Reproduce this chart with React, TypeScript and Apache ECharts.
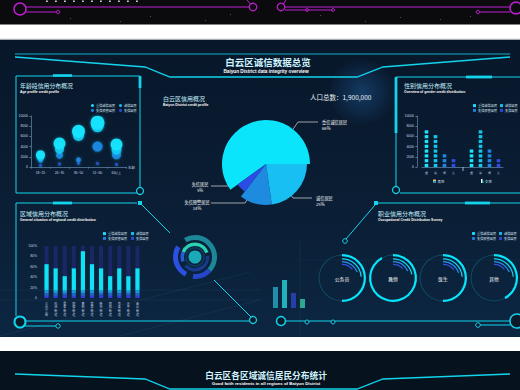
import React, { useEffect, useRef } from "react";
import * as echarts from "echarts";

// ---------- data ----------
const creditTypes = ["重信诚信居民", "诚信居民", "失信预警居民", "失信居民"];

const ageGroups = ["18~25", "26~35", "36~50", "51~60", "60以上"];
const ageHigh = [2400, 4600, 7000, 8700, 4400];
const ageGood = [2000, 3500, 6200, 8000, 3400];
const ageWarn = [1300, 2300, 1400, 4000, 2400];
const ageBad = [300, 600, 700, 700, 500];

const pieNames = ["重信诚信居民", "失信居民", "失信预警居民", "诚信居民"];
const pieValues = [66, 5, 14, 25];
const population = "1,900,000";

const genderSlots = ["重", "诚", "预", "失", "", "重", "诚", "预", "失"];
const genderHigh = [6600, "-", "-", "-", "-", 3300, "-", "-", "-"];
const genderGood = ["-", 5500, "-", "-", "-", "-", 6600, "-", "-"];
const genderWarn = ["-", "-", 2200, "-", "-", "-", "-", 3300, "-"];
const genderBad = ["-", "-", "-", 1100, "-", "-", "-", "-", 1100];
const genderGroups = ["男性", "女性"];

const regions = ["三元里街", "松洲街道", "景泰街道", "同德街道", "黄石街道", "棠景街道", "新市街道", "同和街道", "京溪街道", "永平街道", "金沙街道"];
const regionBad = [4, 4, 5, 4, 4, 4, 5, 4, 4, 5, 4];
const regionWarn = [5, 5, 4, 5, 5, 5, 4, 5, 5, 4, 5];
const regionGood = [6, 5, 5, 6, 5, 6, 5, 5, 6, 5, 6];
const regionHigh = [50, 43, 28, 42, 76, 50, 43, 28, 42, 28, 42];
const regionFull = [100, 100, 100, 100, 100, 100, 100, 100, 100, 100, 100];

const jobs = ["公务员", "教师", "医生", "其他"];
const jobRate = [50, 92, 50, 42];
const jobArcA = [24, 22, 24, 24];
const jobArcB = [19, 18, 20, 19];
const jobArcC = [14, 13, 15, 14];

const decoBars = [21, 28, 15, 9];

// ---------- styles ----------
const CJK = "'Noto Sans CJK SC', 'Noto Sans', sans-serif";
const LAT = "'Liberation Sans', Arial, sans-serif";
const CY = "#13d4ec";
const MG = "#c11ed4";
const creditColors = ["#19e6ff", "#13c8ef", "#1e86e4", "#2c4ce2"];
const pieColors = ["#0ae5fb", "#2c4ce6", "#1e8ae0", "#17bff2"];
const pieRadius = [44, 35, 41, 41];

const line = (x1: number, y1: number, x2: number, y2: number, w = 1, stroke = CY, opacity = 1) => ({
  type: "line", silent: true, z: 5,
  shape: { x1, y1, x2, y2 },
  style: { stroke, lineWidth: w, opacity },
});
const circ = (cx: number, cy: number, r: number, stroke = CY, w = 1, fill: any = "#0a1b2e") => ({
  type: "circle", silent: true, z: 5,
  shape: { cx, cy, r },
  style: { stroke, lineWidth: w, fill },
});
const poly = (points: number[][], w = 1, stroke = CY) => ({
  type: "polyline", silent: true, z: 5,
  shape: { points },
  style: { stroke, lineWidth: w, fill: null },
});
const rect = (x: number, y: number, width: number, height: number, fill: any, z = 0) => ({
  type: "rect", silent: true, z,
  shape: { x, y, width, height },
  style: { fill },
});
const txt = (text: string, x: number, y: number, size: number, fill = "#fff", align = "left", weight = "normal", family = CJK) => ({
  type: "text", silent: true, z: 6, x, y,
  style: {
    text, fill, font: `${weight} ${size}px ${family}`,
    textAlign: align, textVerticalAlign: "middle", align, verticalAlign: "middle",
  },
});

const mkLegend = (left: number, top: number, names: string[], icon: string) => ({
  left, top, orient: "vertical", data: names, icon,
  itemWidth: 3, itemHeight: 3, itemGap: 1.6, selectedMode: false,
  textStyle: { color: "#dbe7f3", fontSize: 3.2, fontFamily: CJK, padding: [0, 0, 0, -3] },
});

export default function App() {
  const ref = useRef<HTMLDivElement>(null);
  useEffect(() => {
    if (!ref.current) return;
    const chart = echarts.init(ref.current, undefined, { renderer: "svg" });

    const graphics: any[] = [];
    // backgrounds
    graphics.push(rect(0, 0, 520, 24.5, "#0b0b0e"));
    graphics.push(rect(0, 38.8, 520, 1.2, "#a9afb5"));
    graphics.push(rect(0, 40, 520, 297, new echarts.graphic.LinearGradient(0, 0, 0, 1, [
      { offset: 0, color: "#08172a" }, { offset: 0.5, color: "#0a1d33" }, { offset: 1, color: "#0c2642" },
    ])));
    graphics.push({
      type: "circle", silent: true, z: 1, shape: { cx: 362, cy: 92, r: 34 },
      style: { fill: new echarts.graphic.RadialGradient(0.5, 0.5, 0.5, [
        { offset: 0, color: "rgba(40,120,200,0.35)" }, { offset: 1, color: "rgba(40,120,200,0)" },
      ]) },
    });
    graphics.push(rect(0, 351, 520, 39, "#06121d"));
    // faint background lines
    graphics.push(line(0, 290, 260, 290, 0.6, "#3a6a9a", 0.25));
    graphics.push(line(0, 300, 260, 300, 0.6, "#3a6a9a", 0.25));
    graphics.push(line(0, 336, 250, 272, 0.6, "#4a8aba", 0.2));
    graphics.push(line(120, 336, 260, 300, 0.6, "#4a8aba", 0.2));
    graphics.push(line(300, 240, 300, 336, 0.6, "#3a6a9a", 0.25));
    graphics.push(line(300, 260, 520, 260, 0.6, "#3a6a9a", 0.18));

    // top strip decorations
    graphics.push(circ(20, 9, 6, MG, 1.4, "none"));
    graphics.push(line(26, 12, 56, 12, 1, MG));
    graphics.push(circ(58, 12, 1.8, MG, 1, "none"));
    graphics.push(line(26, 7, 249, 7, 1, MG));
    graphics.push(circ(253, 7, 3.8, MG, 1.2, "none"));
    graphics.push(line(250.5, 4, 247, 0, 1, MG));
    graphics.push(circ(281, 7, 3.8, MG, 1.2, "none"));
    graphics.push(line(283.5, 4, 286, 0, 1, MG));
    graphics.push(line(285, 7, 510, 7, 1, MG));
    graphics.push(line(285, 10, 333, 10, 1, MG));
    graphics.push(circ(307, 10, 1.5, MG, 1, "none"));
    graphics.push(circ(333, 10, 1.5, MG, 1, "none"));
    graphics.push(circ(516, 8, 6, MG, 1.4, "none"));
    graphics.push(line(480, 12, 510, 12, 1, MG));
    graphics.push(circ(478, 12, 1.8, MG, 1, "none"));
    [46, 55, 64, 73, 82, 91, 100, 109, 118, 127, 136].forEach((x) => graphics.push(rect(x, 0.5, 1.8, 1.6, "#cfd3d8", 4)));
    [[70, 18], [150, 16], [205, 20], [320, 15], [365, 21], [400, 17], [440, 19], [470, 16], [120, 21], [230, 14]].forEach(([x, y]) =>
      graphics.push(rect(x, y, 0.8, 0.8, "rgba(255,255,255,0.5)", 4)));

    // header lines main
    graphics.push(line(15, 54, 510, 54, 1, "#17c4dc", 0.9));
    graphics.push(poly([[15, 57], [145, 67], [170, 77], [357, 77], [383, 67], [510, 57]], 1.3));
    graphics.push(txt("白云区诚信数据总览", 268, 62, 9.5, "#cbf3ff", "center", "bold"));
    graphics.push(txt("Baiyun District data integrity overview", 266, 71, 4.7, "#ffffff", "center", "bold", LAT));

    // left top panel frame
    graphics.push(line(16, 76, 140, 76, 1));
    graphics.push(line(53, 75.5, 72, 75.5, 2.6));
    graphics.push(line(16, 76, 16, 193, 1));
    graphics.push(line(16, 193, 137, 193, 1));
    graphics.push(line(140, 76, 140, 187, 1));
    graphics.push(line(140, 76, 140, 88, 2.8));
    graphics.push(circ(140, 191, 3.5, CY, 1.2));
    graphics.push(txt("年龄段信用分布概况", 20, 85, 5.9, "#c4f2ff"));
    graphics.push(txt("Age profile credit profile", 20, 92, 3.4, "#ffffff", "left", "bold", LAT));

    // center titles
    graphics.push(txt("白云区信用概况", 163, 98, 6, "#c4f2ff"));
    graphics.push(txt("Baiyun District credit profile", 163, 104.5, 3.4, "#ffffff", "left", "bold", LAT));
    graphics.push(txt("人口总数：" + population, 310, 97, 6.5, "#e8f2fa", "left", "normal", CJK));

    // right top panel frame
    graphics.push(line(396, 77, 520, 77, 1));
    graphics.push(line(466, 77, 492, 77, 2.8));
    graphics.push(line(396, 77, 396, 186, 1));
    graphics.push(line(396, 77, 396, 133, 2.8));
    graphics.push(circ(396, 190, 3.5, CY, 1.2));
    graphics.push(line(400, 193, 520, 193, 1));
    graphics.push(txt("性别信用分布概况", 404, 85, 6, "#c4f2ff"));
    graphics.push(txt("Overview of gender credit distribution", 404, 92, 3.4, "#ffffff", "left", "bold", LAT));
    // gender group legend
    graphics.push(rect(433, 179.5, 3, 3, "#f0c040", 6));
    graphics.push(rect(433, 181, 3, 1.5, "#1aa0e8", 6));
    graphics.push(txt(genderGroups[0], 437.5, 181, 3.4, "#dbe7f3"));
    graphics.push(rect(481, 179, 1.5, 4, "#ffffff", 6));
    graphics.push(rect(482, 181, 1.5, 2, "#1ad0c0", 6));
    graphics.push(txt(genderGroups[1], 485, 181, 3.4, "#dbe7f3"));
    graphics.push(line(463, 167, 463, 171, 0.8, "#c8d6e6"));

    // left bottom panel frame
    graphics.push(line(16, 203, 137, 203, 1));
    graphics.push(line(53, 203, 72, 203, 2.8));
    graphics.push(rect(138, 201, 4, 4, CY, 5));
    graphics.push(line(141, 204, 170, 233, 1));
    graphics.push(line(16, 203, 16, 316, 1));
    graphics.push(circ(20, 322, 5.5, CY, 2, "#0b1a2a"));
    graphics.push(line(26, 321, 250, 321, 1.2));
    graphics.push(line(24, 326, 56, 326, 1));
    graphics.push(circ(58, 326, 2.2, CY, 1));
    graphics.push(line(214, 280, 251, 317, 1));
    graphics.push(circ(253, 320, 3.5, CY, 1.2));
    graphics.push(txt("区域信用分布概况", 20, 213, 6, "#c4f2ff"));
    graphics.push(txt("General situation of regional credit distribution", 20, 219.5, 3.4, "#ffffff", "left", "bold", LAT));

    // right bottom panel frame
    graphics.push(rect(374, 201, 4, 4, CY, 5));
    graphics.push(line(378, 203, 520, 203, 1));
    graphics.push(line(465, 203, 490, 203, 2.8));
    graphics.push(line(375, 205, 346, 239, 1));
    graphics.push(circ(345, 241, 2.3, CY, 1));
    graphics.push(txt("职业信用分布概况", 378, 213, 6, "#c4f2ff"));
    graphics.push(txt("Occupational Credit Distribution Survey", 378, 219.5, 3.4, "#ffffff", "left", "bold", LAT));
    graphics.push(line(286, 321, 512, 321, 1.2));
    graphics.push(circ(281, 321, 4.5, CY, 1.5, "#0b1a2a"));
    graphics.push(circ(307, 322, 2, CY, 1));
    graphics.push(circ(333, 322, 2, CY, 1));
    graphics.push(circ(478, 325, 2.3, CY, 1));
    graphics.push(line(480, 325, 510, 325, 1));
    graphics.push(circ(517, 321, 7, CY, 1.5, "#0b1a2a"));

    // bottom panel
    graphics.push({
      type: "line", silent: true, z: 5, shape: { x1: 15, y1: 367, x2: 510, y2: 367 },
      style: { lineWidth: 1, stroke: new echarts.graphic.LinearGradient(0, 0, 1, 0, [
        { offset: 0, color: "rgba(20,200,230,0.2)" }, { offset: 0.5, color: "#18d8f0" }, { offset: 1, color: "rgba(20,200,230,0.2)" },
      ]) },
    });
    graphics.push(poly([[15, 374], [145, 379], [170, 389], [357, 389], [383, 379], [510, 374]], 1.3));
    graphics.push(txt("白云区各区域诚信居民分布统计", 266, 375, 8.7, "#d2f4ff", "center", "bold"));
    graphics.push(txt("Good faith residents in all regions of Baiyun District", 266, 383.5, 4.4, "#ffffff", "center", "bold", LAT));

    // ---------- series ----------
    const series: any[] = [];
    const ageSeries = [ageHigh, ageGood, ageWarn, ageBad];
    const ageSizes = [[9, 12, 13, 14, 12], [8, 9, 11, 12, 10], [5, 7, 5, 10, 9], [3, 3, 3, 3, 3]];
    ageSeries.forEach((arr, k) => {
      series.push({
        type: "scatter", name: creditTypes[k], xAxisIndex: 0, yAxisIndex: 0,
        data: arr.map((v, i) => [i, v]),
        symbolSize: (_v: any, p: any) => ageSizes[k][p.dataIndex],
        itemStyle: { color: creditColors[k], opacity: 0.95, shadowBlur: 3, shadowColor: "rgba(20,220,255,0.5)" },
        z: 10 - k,
      });
    });

    // pie with different radii
    const radiusGroups = [44, 41, 35];
    radiusGroups.forEach((r) => {
      series.push({
        type: "pie", center: [266, 164], radius: [0, r], startAngle: 0, clockwise: false,
        silent: true, emphasis: { disabled: true }, avoidLabelOverlap: false,
        label: { show: true, color: "#ffffff", fontSize: 4.2, lineHeight: 6, fontFamily: CJK, formatter: "{b}\n{c}%" },
        labelLine: { show: true, lineStyle: { color: "#ffffff", width: 0.6 } },
        labelLayout: (p: any) => {
          const L: any = [
            { x: 322, y: 119, align: "left", pts: [[287, 138], [298, 122], [318, 122]] },
            { x: 200, y: 181, align: "center", pts: [[237, 178], [229, 186], [211, 186]] },
            { x: 197, y: 199, align: "center", pts: [[252, 192], [245, 203], [211, 203]] },
            { x: 316, y: 195, align: "left", pts: [[284, 184], [293, 198], [312, 198]] },
          ][p.dataIndex];
          return { x: L.x, y: L.y, align: L.align, verticalAlign: "top", labelLinePoints: L.pts };
        },
        data: pieValues.map((v, i) => {
          const vis = pieRadius[i] === r;
          return {
            name: pieNames[i], value: v,
            itemStyle: { color: vis ? pieColors[i] : "rgba(0,0,0,0)" },
            label: { show: vis }, labelLine: { show: vis },
          };
        }),
      });
    });

    // gender pictorial bars
    [genderHigh, genderGood, genderWarn, genderBad].forEach((arr, k) => {
      series.push({
        type: "pictorialBar", name: creditTypes[k], xAxisIndex: 1, yAxisIndex: 1,
        data: arr, symbol: "rect", symbolRepeat: true, symbolSize: [3.6, 3], symbolMargin: 0.9,
        symbolPosition: "start", barGap: "-100%", itemStyle: { color: creditColors[k] },
      });
    });

    // region bars
    series.push({
      type: "bar", xAxisIndex: 2, yAxisIndex: 2, data: regionFull, barWidth: 4.2, barGap: "-100%",
      itemStyle: { color: "#1a2666" }, silent: true, z: 1,
    });
    [regionBad, regionWarn, regionGood, regionHigh].forEach((arr, k) => {
      const names = [creditTypes[3], creditTypes[2], creditTypes[1], creditTypes[0]];
      const cols = ["#2f3ed6", "#2660cc", "#1b96d8", "#0fe2f4"];
      series.push({
        type: "bar", name: names[k], stack: "reg", xAxisIndex: 2, yAxisIndex: 2, data: arr,
        barWidth: 4.2, barGap: "-100%", itemStyle: { color: cols[k] }, z: 3,
      });
    });

    // center decorative rings
    const ringCenter = [195, 257];
    const ringSets: any[] = [
      { r: [17, 22], start: 120, vals: [45, 15, 6, 26, 8], cols: ["#1b8797", "#2646c8", "transparent", "#2c50df", "transparent"] },
      { r: [11, 14.5], start: 200, vals: [12, 38, 4, 40, 6], cols: ["#2a5ad8", "#2ad2b2", "transparent", "#173a8a", "transparent"] },
      { r: [8.2, 10], start: 90, vals: [100], cols: ["#0d3a5a"] },
      { r: [0, 6.5], start: 90, vals: [100], cols: ["#1aa9b6"] },
    ];
    ringSets.forEach((s) => {
      series.push({
        type: "pie", center: ringCenter, radius: s.r, startAngle: s.start, clockwise: true, silent: true,
        label: { show: false }, labelLine: { show: false }, emphasis: { disabled: true },
        data: s.vals.map((v: number, i: number) => ({ value: v, itemStyle: { color: s.cols[i] } })),
      });
    });

    // job rings
    const jobX = [342, 393, 443, 494];
    jobs.forEach((job, i) => {
      const c = [jobX[i], 278];
      const base = { type: "pie", center: c, startAngle: 90, clockwise: true, silent: true, emphasis: { disabled: true }, labelLine: { show: false } };
      series.push({
        ...base, radius: [22.4, 23.4],
        label: { show: true, position: "center", formatter: "{b}", color: "#ffffff", fontSize: 4.8, fontFamily: CJK },
        data: [{ name: job, value: 1, itemStyle: { color: "#0f4c5e" } }],
      });
      const arc = (r: number[], v: number, col: string) => series.push({
        ...base, radius: r, label: { show: false },
        data: [{ value: v, itemStyle: { color: col } }, { value: 100 - v, itemStyle: { color: "rgba(0,0,0,0)" } }],
      });
      arc([21.8, 24], jobRate[i], "#08e4fb");
      arc([18.6, 19.8], jobArcA[i], "#10d8f4");
      arc([15.8, 17], jobArcB[i], "#2b8ef2");
      arc([13, 14.2], jobArcC[i], "#3151e4");
    });

    // decorative small bars
    series.push({
      type: "bar", xAxisIndex: 3, yAxisIndex: 3, barWidth: 5, silent: true,
      data: decoBars.map((v, i) => ({ value: v, itemStyle: { color: ["#1f8ea8", "#1fb2bb", "#2440a8", "#2ea890"][i] } })),
    });

    const axisLabel = { color: "#c6d4e4", fontSize: 3.4, fontFamily: LAT };
    const axisLine = { show: true, lineStyle: { color: "#5c7c9c", width: 0.8 } };
    const plain = (v: number) => String(v);
    const option: any = {
      animation: false,
      backgroundColor: "#ffffff",
      textStyle: { fontFamily: CJK },
      graphic: { elements: graphics },
      legend: [
        mkLegend(86, 99, [creditTypes[0], creditTypes[2]], "circle"),
        mkLegend(114, 99, [creditTypes[1], creditTypes[3]], "circle"),
        mkLegend(468, 99, [creditTypes[0], creditTypes[2]], "rect"),
        mkLegend(495, 99, [creditTypes[1], creditTypes[3]], "rect"),
        mkLegend(98, 227, [creditTypes[0], creditTypes[2]], "rect"),
        mkLegend(126, 227, [creditTypes[1], creditTypes[3]], "rect"),
        mkLegend(467, 227, [creditTypes[0], creditTypes[2]], "roundRect"),
        mkLegend(494, 227, [creditTypes[1], creditTypes[3]], "roundRect"),
      ],
      grid: [
        { left: 31, top: 116, width: 95, height: 51 },
        { left: 422, top: 116, width: 81, height: 51 },
        { left: 42, top: 246, width: 100, height: 52 },
        { left: 271, top: 280, width: 36, height: 28 },
      ],
      xAxis: [
        {
          type: "category", gridIndex: 0, data: ageGroups, axisLine, axisTick: { show: true, length: 1.5, lineStyle: { color: "#5c7c9c" } },
          axisLabel: { ...axisLabel, margin: 4 }, name: "年龄", nameGap: 2, nameTextStyle: { color: "#c6d4e4", fontSize: 3.4, padding: [9, 0, 0, 0] },
        },
        {
          type: "category", gridIndex: 1, data: genderSlots, axisLine, axisTick: { show: false },
          axisLabel: { ...axisLabel, margin: 4, fontSize: 3 },
        },
        {
          type: "category", gridIndex: 2, data: regions, axisLine: { show: false }, axisTick: { show: false },
          axisLabel: { ...axisLabel, fontFamily: CJK, fontSize: 3, lineHeight: 3.6, margin: 4, verticalAlign: "top", formatter: (v: string) => v.split("").join("\n") },
        },
        { type: "category", gridIndex: 3, data: ["a", "b", "c", "d"], show: false },
      ],
      yAxis: [
        {
          type: "value", gridIndex: 0, min: 0, max: 10000, interval: 2000, axisLine, axisTick: { show: true, length: 1.5, lineStyle: { color: "#5c7c9c" } },
          splitLine: { show: false }, axisLabel: { ...axisLabel, margin: 3, formatter: plain },
        },
        {
          type: "value", gridIndex: 1, min: 0, max: 10000, interval: 2000, offset: 5, axisLine, axisTick: { show: true, length: 1.5, lineStyle: { color: "#5c7c9c" } },
          splitLine: { show: false }, axisLabel: { ...axisLabel, margin: 3, formatter: plain },
        },
        {
          type: "value", gridIndex: 2, min: 0, max: 100, interval: 20, axisLine: { show: false }, axisTick: { show: false },
          splitLine: { show: false }, axisLabel: { ...axisLabel, margin: 5, formatter: (v: number) => (v === 0 ? "0" : v + "%") },
        },
        { type: "value", gridIndex: 3, min: 0, max: 28, show: false },
      ],
      series,
    };
    chart.setOption(option);
    return () => chart.dispose();
  }, []);
  return <div ref={ref} style={{ position: "absolute", left: 0, top: 0, width: 520, height: 390 }} />;
}
